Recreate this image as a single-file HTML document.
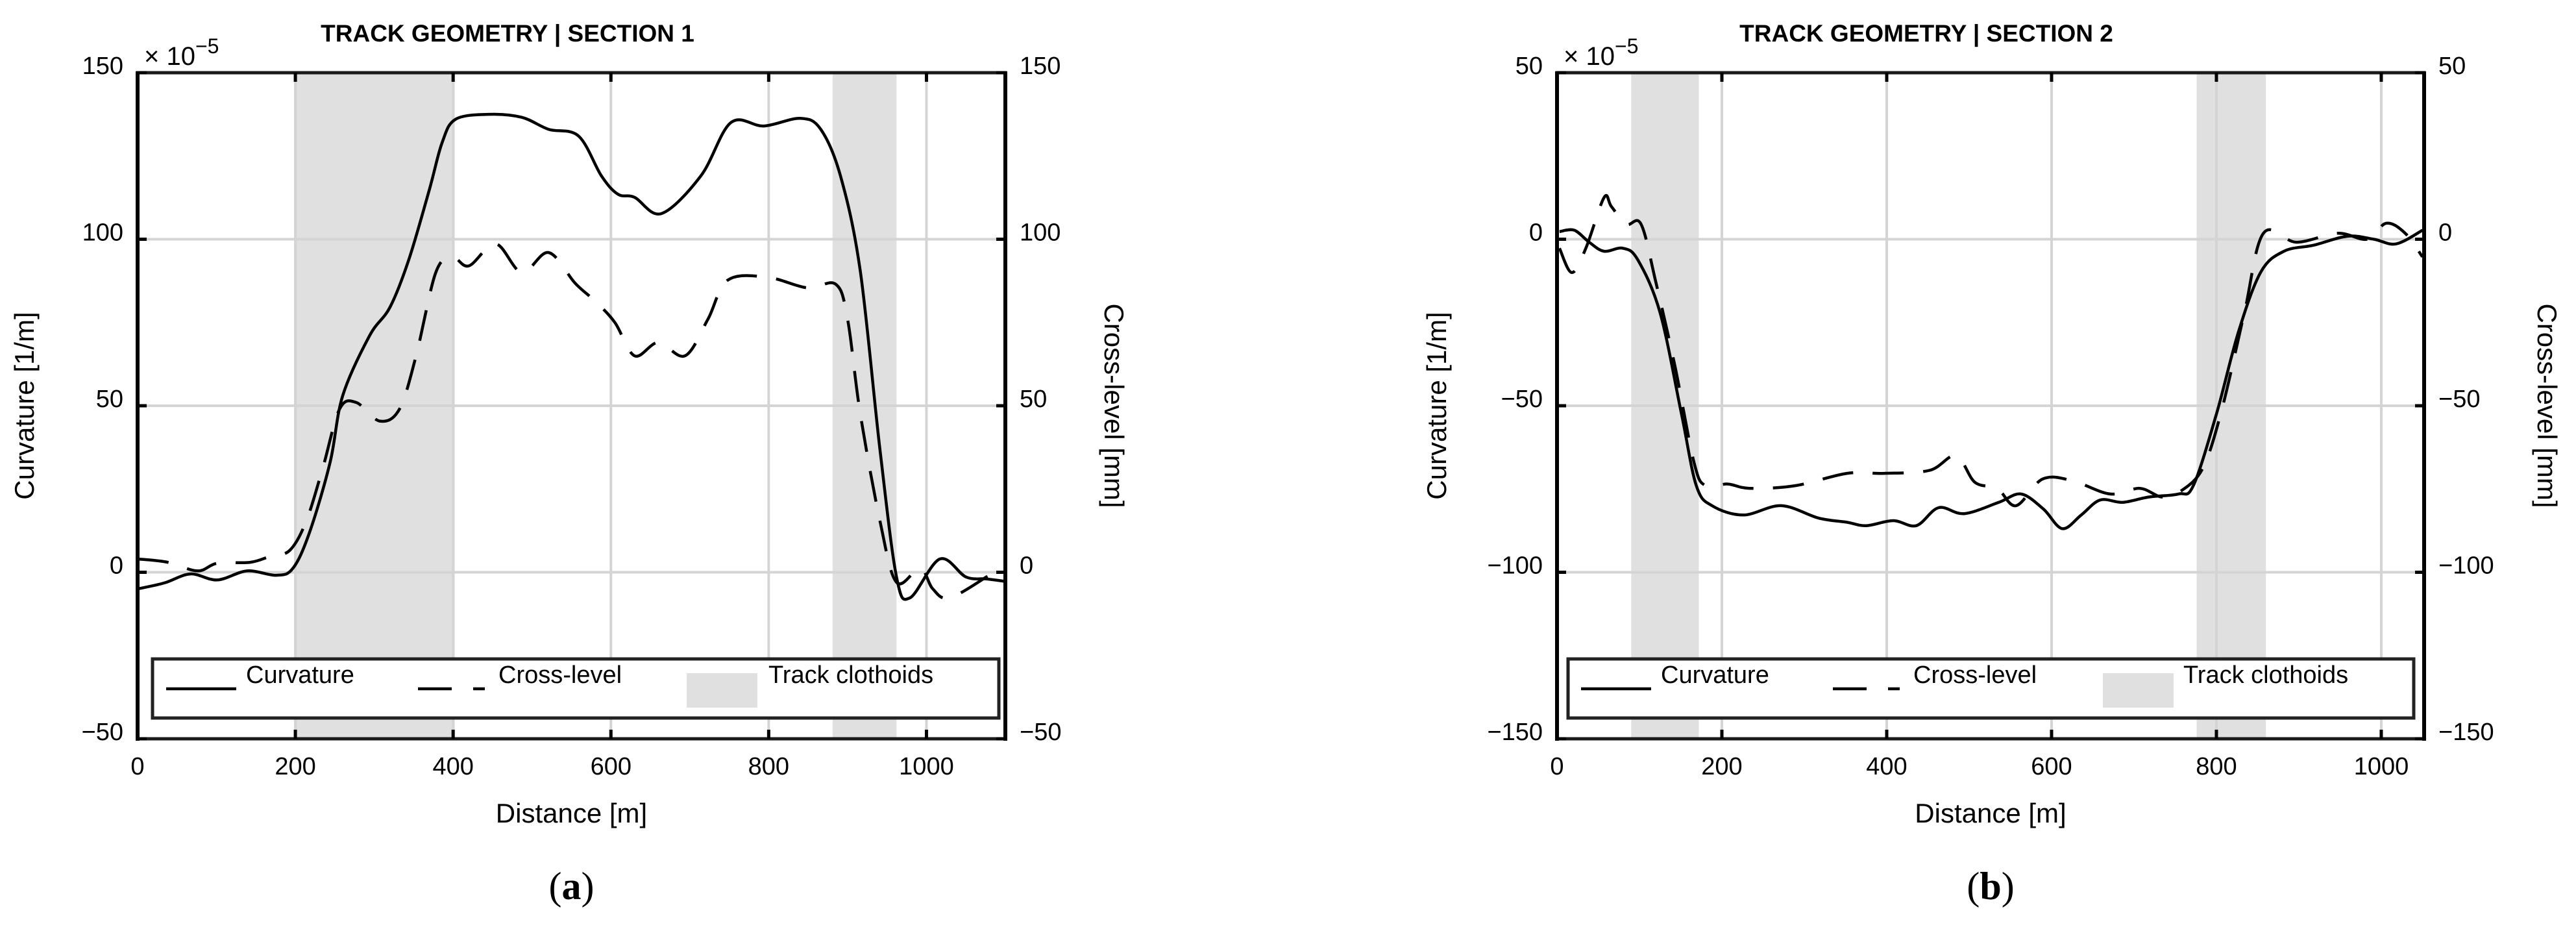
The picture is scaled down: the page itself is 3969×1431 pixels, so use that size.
<!DOCTYPE html>
<html><head><meta charset="utf-8"><style>
html,body{margin:0;padding:0;background:#fff;}
svg{display:block;font-family:"Liberation Sans Narrow","Liberation Sans",sans-serif;}
</style></head><body>
<svg id="fig" width="3969" height="1431" viewBox="0 0 3969 1431" xmlns="http://www.w3.org/2000/svg"></svg>
<script>
// ---------- Panel A data ----------
const aCurvX=[0,34,67,101,139,176,197,218,244,260,294,320,344,370,386,403,445,487,521,559,588,609,630,664,714,752,794,840,866,891,916,941,962,979,1017,1050,1076,1099];
const aCurvY=[-5,-3.2,-0.5,-2.3,0.4,-0.9,1.2,12,33,53,71,79.6,94,115,129,136,137.5,136.6,133,131,119,113.5,112.6,107.7,119,135,134,136.3,133,119,90.6,37,-1.4,-7.7,4,-1.4,-2,-2.7];
const aCrossX=[0,38,76,101,143,168,193,214,235,256,277,307,332,353,378,399,420,454,487,521,555,580,605,630,660,694,723,748,798,849,885,900,916,941,962,992,1008,1029,1076,1084];
const aCrossY=[4,3,0.4,2.7,3,4.8,6.6,15.5,31.5,49,51,45.4,49,65,90,94.6,92,98.6,90,96,86.7,81.4,75,65,69,65,76,87.7,88.6,85.4,86.5,76,47.7,15.5,-3,1.2,-5,-7.7,-1.4,0.4];
const aClothoids=[[200,402],[881,962]];
const aXTicks=[0,200,400,600,800,1000];
const aYTicks=[-50,0,50,100,150];
// ---------- Panel B data ----------
const bCurvX=[3,21,39,57,80,98,125,151,169,188,226,272,317,352,375,408,436,463,494,536,563,590,613,636,659,686,718,754,772,800,827,854,882,918,959,991,1018,1050];
const bCurvY=[2.3,2.7,-0.9,-3.6,-2.7,-6.2,-22,-52.5,-74,-80,-82.8,-80,-83.7,-85,-86,-84.5,-86,-80.6,-82.4,-79,-76.5,-81,-86.9,-82.8,-78.3,-79,-77.4,-76.5,-74,-52.5,-27.6,-9.8,-3.6,-1.8,0.9,0,-1.4,2.7];
const bCrossX=[3,18,35,57,66,84,102,120,143,166,180,207,234,289,352,397,452,484,507,534,557,589,625,671,707,734,757,784,807,834,857,897,947,983,1006,1029,1050];
const bCrossY=[-2.7,-10,-2.7,12.5,9.8,4.5,4.5,-13,-38,-66.8,-74,-73.5,-74.8,-74,-70.3,-70.3,-69.4,-65,-73,-74.8,-80,-72,-72.5,-76.5,-74.8,-77.4,-75.6,-68.5,-50.7,-22,1.8,-0.9,1.8,0,4.8,1.8,-5.3];
const bClothoids=[[90,172],[776,860]];
const bXTicks=[0,200,400,600,800,1000];
const bYTicks=[-150,-100,-50,0,50];

const NS="http://www.w3.org/2000/svg";
const svg=document.getElementById('fig');
function mk(tag,attrs,parent){const e=document.createElementNS(NS,tag);for(const k in attrs)e.setAttribute(k,attrs[k]);(parent||svg).appendChild(e);return e;}
function smooth(pts){let d='M'+pts[0][0].toFixed(1)+','+pts[0][1].toFixed(1);
 for(let i=0;i<pts.length-1;i++){const p0=pts[Math.max(0,i-1)],p1=pts[i],p2=pts[i+1],p3=pts[Math.min(pts.length-1,i+2)];
  const c1=[p1[0]+(p2[0]-p0[0])/6,p1[1]+(p2[1]-p0[1])/6],c2=[p2[0]-(p3[0]-p1[0])/6,p2[1]-(p3[1]-p1[1])/6];
  d+=' C'+c1[0].toFixed(1)+','+c1[1].toFixed(1)+' '+c2[0].toFixed(1)+','+c2[1].toFixed(1)+' '+p2[0].toFixed(1)+','+p2[1].toFixed(1);}
 return d;}

function panel(o){
 const g=mk('g',{});
 
 
 const L=o.left,R=o.right,T=112,B=1138;
 const sx=v=>L+(v-o.xmin)/(o.xmax-o.xmin)*(R-L);
 const sy=v=>B-(v-o.ymin)/(o.ymax-o.ymin)*(B-T);
 o.clo.forEach(c=>{const r=mk('rect',{x:sx(c[0]),y:T,width:sx(c[1])-sx(c[0]),height:B-T,fill:'#e0e0e0'},g);
  
  });
 o.xt.forEach(t=>{const l=mk('line',{x1:sx(t),x2:sx(t),y1:T,y2:B,stroke:'#d4d4d4','stroke-width':4},g);
  
  });
 o.yt.forEach(t=>{const l=mk('line',{x1:L,x2:R,y1:sy(t),y2:sy(t),stroke:'#d4d4d4','stroke-width':4},g);
  
  });
 const c=mk('path',{d:smooth(o.cx.map((x,i)=>[sx(x),sy(o.cy[i])])),fill:'none',stroke:'#000','stroke-width':4.5},g);
 
 
 const d=mk('path',{d:smooth(o.dx.map((x,i)=>[sx(x),sy(o.dy[i])])),fill:'none',stroke:'#000','stroke-width':4.5,'stroke-dasharray':'48 30'},g);
 
 
 const lg=mk('g',{},g);
 
 
 mk('rect',{x:o.lg.x,y:1015,width:o.lg.w,height:91,fill:'#fff',stroke:'#222','stroke-width':5},lg);
 mk('line',{x1:o.lg.l1[0],x2:o.lg.l1[1],y1:1061,y2:1061,stroke:'#000','stroke-width':4.5},lg);
 mk('text',{x:o.lg.t1,y:1052,'font-size':38},lg).textContent='Curvature';
 mk('line',{x1:o.lg.l2[0],x2:o.lg.l2[1],y1:1061,y2:1061,stroke:'#000','stroke-width':4.5,'stroke-dasharray':'52 33'},lg);
 mk('text',{x:o.lg.t2,y:1052,'font-size':38},lg).textContent='Cross-level';
 mk('rect',{x:o.lg.r[0],y:1037,width:o.lg.r[1]-o.lg.r[0],height:53,fill:'#e0e0e0'},lg);
 mk('text',{x:o.lg.t3,y:1052,'font-size':38},lg).textContent='Track clothoids';
 mk('rect',{x:L,y:T,width:R-L,height:B-T,fill:'none',stroke:'#1a1a1a','stroke-width':5},g);
 mk('line',{x1:L,x2:L,y1:T-2,y2:B+3,stroke:'#000','stroke-width':6},g);
 mk('line',{x1:R,x2:R,y1:T-2,y2:B+3,stroke:'#000','stroke-width':6},g);
 o.yt.forEach(t=>{mk('line',{x1:L,x2:L+14,y1:sy(t),y2:sy(t),stroke:'#000','stroke-width':5},g);
  mk('line',{x1:R-14,x2:R,y1:sy(t),y2:sy(t),stroke:'#000','stroke-width':5},g);
  const lab=String(t).replace('-','\u2212');
  const tl=mk('text',{x:L-22,y:sy(t)+2,'font-size':38,'text-anchor':'end'},g);tl.textContent=lab;
  
  
  const tr=mk('text',{x:R+22,y:sy(t)+2,'font-size':38,'text-anchor':'start'},g);tr.textContent=lab;
  
  });
 o.xt.forEach(t=>{mk('line',{x1:sx(t),x2:sx(t),y1:B-14,y2:B,stroke:'#000','stroke-width':5},g);
  mk('line',{x1:sx(t),x2:sx(t),y1:T,y2:T+14,stroke:'#000','stroke-width':5},g);
  const tx=mk('text',{x:sx(t),y:1193,'font-size':38,'text-anchor':'middle'},g);tx.textContent=t;
  
  });
 const ti=mk('text',{x:o.titleX,y:64,'font-size':37,'font-weight':'bold','text-anchor':'middle'},g);ti.textContent=o.title;
 
 
 const ex=mk('text',{x:L+10,y:100,'font-size':40},g);ex.innerHTML='\u00d7 10<tspan dy="-18" font-size="32">\u22125</tspan>';
 
 
 const xl=mk('text',{x:(L+R)/2,y:1267,'font-size':42,'text-anchor':'middle'},g);xl.textContent='Distance [m]';
 
 
 const yl=mk('text',{x:0,y:0,'font-size':42,'text-anchor':'middle',transform:`translate(${o.ylX},625) rotate(-90)`},g);yl.textContent='Curvature [1/m]';
 
 
 const yr=mk('text',{x:0,y:0,'font-size':42,'text-anchor':'middle',transform:`translate(${o.yrX},625) rotate(90)`},g);yr.textContent='Cross-level [mm]';
 
 
 const cap=mk('text',{x:(L+R)/2,y:1385,'font-size':60,'text-anchor':'middle','font-family':'Liberation Serif, serif'},g);
 cap.innerHTML='(<tspan font-weight="bold">'+o.cap+'</tspan>)';
 
 
}

panel({name:'panel-a',left:212,right:1549,xmin:0,xmax:1100,ymin:-50,ymax:150,xt:aXTicks,yt:aYTicks,clo:aClothoids,
 cx:aCurvX,cy:aCurvY,dx:aCrossX,dy:aCrossY,title:'TRACK GEOMETRY | SECTION 1',titleX:782,cap:'a',ylX:52,yrX:1702,
 lg:{x:235,w:1304,l1:[256,364],t1:379,l2:[644,747],t2:768,r:[1058,1167],t3:1184}});
panel({name:'panel-b',left:2399,right:3735,xmin:0,xmax:1052,ymin:-150,ymax:50,xt:bXTicks,yt:bYTicks,clo:bClothoids,
 cx:bCurvX,cy:bCurvY,dx:bCrossX,dy:bCrossY,title:'TRACK GEOMETRY | SECTION 2',titleX:2968,cap:'b',ylX:2228,yrX:3910,
 lg:{x:2416,w:1303,l1:[2436,2544],t1:2559,l2:[2824,2927],t2:2948,r:[3240,3349],t3:3364}});
</script>
</body></html>
